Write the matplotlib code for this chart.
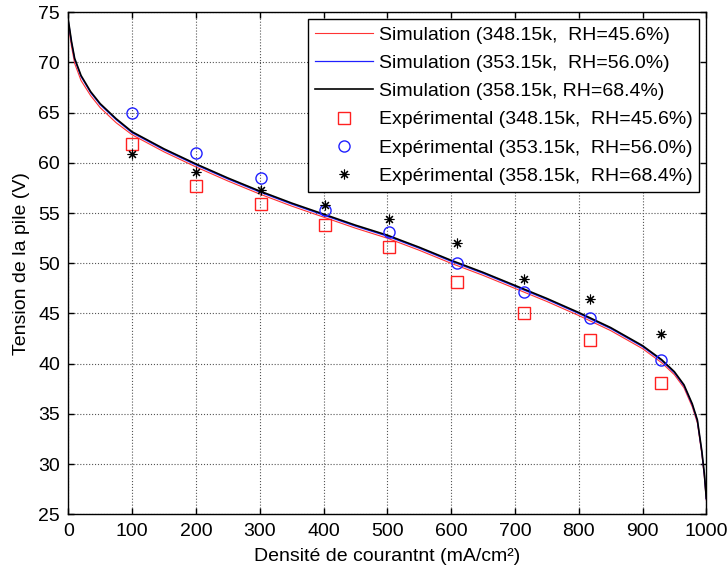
import matplotlib.pyplot as plt

plt.rcParams['font.family'] = ['Liberation Sans', 'DejaVu Sans']

# courbes simulées
x_sim = [0, 2, 5, 10, 20, 35, 50, 75, 100, 150, 200, 250, 300, 350, 400, 450,
         500, 550, 600, 650, 700, 750, 800, 850, 900, 930, 950, 965, 978, 986,
         993, 997, 1000]
y_sim_358 = [74.2, 73.4, 72.1, 70.4, 68.7, 67.1, 65.9, 64.4, 63.1, 61.4, 59.9,
             58.5, 57.2, 56.0, 54.9, 53.8, 52.8, 51.6, 50.3, 49.1, 47.8, 46.5,
             45.1, 43.6, 41.8, 40.4, 39.2, 37.9, 36.0, 34.4, 31.3, 29.0, 26.6]
y_sim_353 = [74.1, 73.3, 72.0, 70.3, 68.6, 67.0, 65.8, 64.3, 63.0, 61.3, 59.8,
             58.4, 57.1, 55.9, 54.8, 53.7, 52.7, 51.5, 50.2, 49.0, 47.7, 46.4,
             45.0, 43.5, 41.7, 40.3, 39.1, 37.8, 35.9, 34.3, 31.2, 28.9, 26.5]
y_sim_348 = [73.8, 72.9, 71.6, 69.9, 68.2, 66.7, 65.5, 64.0, 62.8, 61.1, 59.6,
             58.2, 56.9, 55.7, 54.6, 53.5, 52.5, 51.3, 50.0, 48.8, 47.5, 46.2,
             44.8, 43.3, 41.5, 40.1, 38.9, 37.6, 35.7, 34.1, 31.0, 28.7, 26.4]

# points expérimentaux
x_exp = [100, 200, 302, 402, 503, 609, 715, 818, 929]
y_exp_348 = [61.9, 57.7, 55.9, 53.8, 51.6, 48.1, 45.0, 42.4, 38.1]
y_exp_353 = [65.0, 61.0, 58.5, 55.3, 53.1, 50.0, 47.1, 44.6, 40.4]
y_exp_358 = [60.9, 59.1, 57.3, 55.8, 54.4, 52.0, 48.4, 46.4, 43.0]

fig = plt.figure(figsize=(7.27, 5.70), dpi=100)
ax = fig.add_axes([68.3 / 727, 1 - 514.3 / 570, 638 / 727, 502 / 570])

ax.plot(x_sim, y_sim_348, '-', color='#ff3333', lw=0.8,
        label='Simulation (348.15k,  RH=45.6%)')
ax.plot(x_sim, y_sim_353, '-', color='#2020ff', lw=0.9,
        label='Simulation (353.15k,  RH=56.0%)')
ax.plot(x_sim, y_sim_358, '-', color='black', lw=1.2,
        label='Simulation (358.15k, RH=68.4%)')
ax.plot(x_exp, y_exp_348, 's', color='#ff2020', mfc='none', ms=8, mew=1.0,
        label='Expérimental (348.15k,  RH=45.6%)')
ax.plot(x_exp, y_exp_353, 'o', color='#2020ff', mfc='none', ms=8, mew=1.0,
        label='Expérimental (353.15k,  RH=56.0%)')
ax.plot(x_exp, y_exp_358, marker=(8, 2, 0), ls='none', color='black', ms=7,
        mew=0.8, label='Expérimental (358.15k,  RH=68.4%)')

ax.set_xlim(0, 1000)
ax.set_ylim(25, 75)
ax.set_xticks(range(0, 1001, 100))
ax.set_yticks(range(25, 76, 5))
ax.tick_params(direction='in', length=4, labelsize=14, top=True, right=True,
               width=1, pad=6)
ax.grid(True, ls=':', color='#555555', lw=0.8)
for s in ax.spines.values():
    s.set_linewidth(1.0)

ax.set_xlabel('Densité de courantnt (mA/cm²)', fontsize=14, labelpad=6)
ax.set_ylabel('Tension de la pile (V)', fontsize=14, labelpad=6)

leg = ax.legend(loc='upper right', fontsize=14, frameon=True, fancybox=False,
                framealpha=1, edgecolor='black', handlelength=3.0,
                handletextpad=0.3, labelspacing=0.55, borderpad=0.35,
                borderaxespad=0.35)
leg.get_frame().set_linewidth(1.0)

fig.savefig('out.png', dpi=100)
